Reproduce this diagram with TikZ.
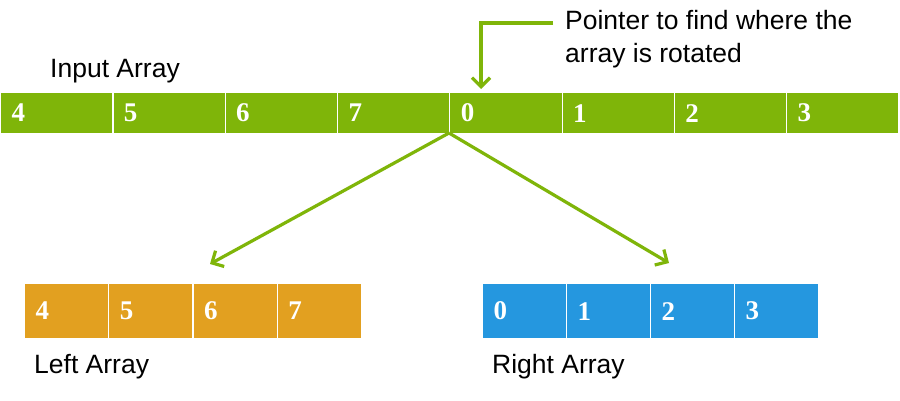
\documentclass[tikz,border=0pt]{standalone}
\usepackage{fontspec}
\setmainfont{Liberation Serif}
\newfontfamily\labelfont{Liberation Sans}
\usetikzlibrary{arrows.meta}
\definecolor{cgreen}{HTML}{7FB509}
\definecolor{corange}{HTML}{E2A020}
\definecolor{cblue}{HTML}{2597DF}
\tikzset{
  cell/.style={draw=white, line width=1.2pt, anchor=north west, minimum height=#1,
    inner xsep=11pt, inner ysep=0pt, align=left, text=white,
    font=\fontsize{27}{27}\selectfont\bfseries},
  incell/.style={cell=41pt, fill=cgreen, text width=90.3pt, minimum width=112.3pt},
  smcell/.style={cell=55pt, text width=62pt, minimum width=84pt},
  lbl/.style={font=\labelfont\fontsize{26.5}{33}\selectfont, text=black, inner sep=0pt, anchor=west, align=left},
  gline/.style={draw=cgreen, line width=3.2pt},
  garrow/.style={gline, -{Straight Barb[length=9pt,width=18pt,line width=3.2pt]}}
}
\begin{document}
\begin{tikzpicture}[x=1pt,y=-1pt]
\useasboundingbox[fill=white] (0,0) rectangle (900,400);
% input array
\foreach \v [count=\i from 0] in {4,5,6,7,0,1,2,3}{
  \node[incell] (in\i) at ({\i*112.3},92) {\raisebox{-3pt}{\v}};
}
\foreach \v [count=\i from 0] in {4,5,6,7}{
  \node[smcell, fill=corange] (l\i) at ({24+\i*84.25},283) {\raisebox{-1pt}{\v}};
}
\foreach \v [count=\i from 0] in {0,1,2,3}{
  \node[smcell, fill=cblue] (r\i) at ({482+\i*84},283) {\raisebox{-1pt}{\v}};
}
\node[lbl] (inlbl) at (50,71) {Input Array};
\node[lbl] (ptr) at (565,39) {Pointer to find where the\\array is rotated};
\node[lbl] (llbl) at (34,367) {Left Array};
\node[lbl] (rlbl) at (492,367) {Right Array};
\coordinate (ptrstart) at (553,23);
\coordinate (split) at (449,133);
\coordinate (ltip) at (210,264);
\coordinate (rtip) at (669,263);
\draw[garrow] (ptrstart) -| (481,89);
\draw[garrow] (split) -- (ltip);
\draw[garrow] (split) -- (rtip);
\end{tikzpicture}
\end{document}
